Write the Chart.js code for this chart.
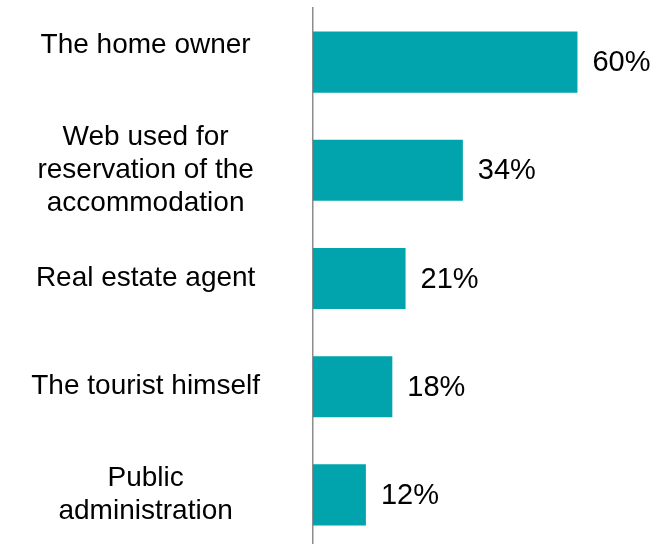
<!DOCTYPE html>
<html>
<head>
<meta charset="utf-8">
<script src="https://cdn.jsdelivr.net/npm/chart.js@4"></script>
<style>
  html, body { margin: 0; padding: 0; background: #fff; overflow: hidden; }
  #wrap { width: 659px; height: 549px; position: relative; }
</style>
</head>
<body>
<div id="wrap"><canvas id="chart"></canvas></div>
<script>
// first label sits a little higher than its bar in the original, hence the blank line
const categories = [
    ['The home owner', ''],
    ['Web used for', 'reservation of the', 'accommodation'],
    'Real estate agent',
    'The tourist himself',
    ['Public', 'administration']
];
const values = [60, 34, 21, 18, 12];

const barColor = '#01a3ad';

// percentage labels to the right of each bar
const valueLabels = {
    id: 'valueLabels',
    afterDatasetsDraw(chart) {
        const ctx = chart.ctx;
        const meta = chart.getDatasetMeta(0);
        ctx.save();
        ctx.font = '29px "Liberation Sans", Arial, sans-serif';
        ctx.fillStyle = '#000';
        ctx.textAlign = 'left';
        ctx.textBaseline = 'middle';
        meta.data.forEach((bar, i) => {
            ctx.fillText(values[i] + '%', bar.x + 15, bar.y + 1);
        });
        ctx.restore();
    }
};

new Chart(document.getElementById('chart'), {
    type: 'bar',
    data: {
        labels: categories,
        datasets: [{
            data: values,
            backgroundColor: barColor,
            borderWidth: 0,
            barPercentage: 0.565,
            categoryPercentage: 1
        }]
    },
    options: {
        indexAxis: 'y',
        responsive: true,
        maintainAspectRatio: false,
        animation: false,
        layout: { padding: { top: 8, right: 0, bottom: 0, left: 0 } },
        plugins: {
            legend: { display: false },
            tooltip: { enabled: false }
        },
        scales: {
            x: {
                display: false,
                min: 0,
                max: 78.5
            },
            y: {
                grid: { display: false, drawTicks: false },
                border: { display: true, color: '#8c8c8c', width: 1.5 },
                afterFit(scale) {
                    scale.width = 313;
                    // labels sit beside the bars, no extra room needed above/below
                    scale.paddingTop = 0;
                    scale.paddingBottom = 0;
                },
                ticks: {
                    color: '#000',
                    crossAlign: 'center',
                    padding: 53,
                    font: { family: '"Liberation Sans", Arial, sans-serif', size: 28, lineHeight: 1.18 }
                }
            }
        }
    },
    plugins: [valueLabels]
});
</script>
</body>
</html>
